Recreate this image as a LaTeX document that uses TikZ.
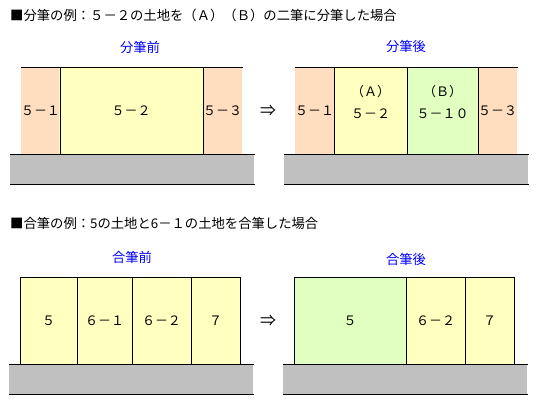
\documentclass[tikz,border=0pt]{standalone}
\usepackage{fontspec}
\newfontfamily\jp{Noto Sans CJK JP}
\definecolor{peach}{RGB}{255,222,192}
\definecolor{lyellow}{RGB}{255,255,192}
\definecolor{lgreen}{RGB}{224,255,192}
\definecolor{groundgray}{RGB}{192,192,192}
\begin{document}
\begin{tikzpicture}[x=1pt,y=-1pt,
  lot/.style={rectangle, inner sep=0pt, outer sep=0pt, anchor=north west, align=center,
     font=\jp\fontsize{13}{22}\selectfont},
  ground/.style={rectangle, inner sep=0pt, outer sep=0pt, anchor=north west, fill=groundgray,
     minimum height=30pt},
  heading/.style={anchor=west, inner sep=0pt, font=\jp\fontsize{13.33}{16}\selectfont},
  title/.style={inner sep=0pt, text=blue, font=\jp\fontsize{13.33}{16}\selectfont},
  arrowsym/.style={inner sep=0pt, font=\jp\fontsize{16}{18}\selectfont},
  edge/.style={line width=1pt, line cap=rect}]
\useasboundingbox (0,0) rectangle (550,413);
\fill[white] (0,0) rectangle (550,413);

% ---------- Headings ----------
\node[heading] (h1) at (10,15) {■分筆の例：５－２の土地を（Ａ）（Ｂ）の二筆に分筆した場合};
\node[heading] (h2) at (10,223) {■合筆の例：5の土地と6－１の土地を合筆した場合};

% ---------- Top left: before split ----------
\node[title] (t1) at (140,47) {分筆前};
\node[ground, minimum width=244pt] (g1) at (10,154) {};
\node[lot, fill=peach, minimum width=38pt, minimum height=87pt] (a1) at (21,67) {５－１};
\node[lot, fill=lyellow, minimum width=144pt, minimum height=87pt] (a2) at (59,67) {５－２};
\node[lot, fill=peach, minimum width=39pt, minimum height=87pt] (a3) at (203,67) {５－３};
\draw[edge] (g1.north west) -- (g1.north east);
\draw[edge] (g1.south west) -- (g1.south east);
\draw[edge] (a1.north west) -- (a3.north east);
\draw[edge] (a1.north east) -- (a1.south east);
\draw[edge] (a2.north east) -- (a2.south east);

\node[arrowsym] (arr1) at (268,111) {⇒};

% ---------- Top right: after split ----------
\node[title] (t2) at (406,46) {分筆後};
\node[ground, minimum width=244pt] (g2) at (284,154) {};
\node[lot, fill=peach, minimum width=39pt, minimum height=87pt] (b1) at (295,67) {５－１};
\node[lot, fill=lyellow, minimum width=73pt, minimum height=87pt] (b2) at (334,67) {};
\node[lot, fill=lgreen, minimum width=71pt, minimum height=87pt] (b3) at (407,67) {};
\node[lot, fill=peach, minimum width=38pt, minimum height=87pt] (b4) at (478,67) {５－３};
\node[lot, anchor=center] (b2l) at ([yshift=8.5pt]b2.center) {（Ａ）\\５－２};
\node[lot, anchor=center] (b3l) at ([yshift=8.5pt]b3.center) {（Ｂ）\\５－１０};
\draw[edge] (g2.north west) -- (g2.north east);
\draw[edge] (g2.south west) -- (g2.south east);
\draw[edge] (b1.north west) -- (b4.north east);
\draw[edge] (b1.north east) -- (b1.south east);
\draw[edge] (b2.north east) -- (b2.south east);
\draw[edge] (b3.north east) -- (b3.south east);

% ---------- Bottom left: before merge ----------
\node[title] (t3) at (132,257) {合筆前};
\node[ground, minimum width=244pt] (g3) at (9,364) {};
\node[lot, fill=lyellow, draw, line width=1pt, minimum width=57pt, minimum height=87pt] (c1) at (20,277) {５};
\node[lot, fill=lyellow, draw, line width=1pt, minimum width=55pt, minimum height=87pt] (c2) at (77,277) {６－１};
\node[lot, fill=lyellow, draw, line width=1pt, minimum width=59pt, minimum height=87pt] (c3) at (132,277) {６－２};
\node[lot, fill=lyellow, draw, line width=1pt, minimum width=49pt, minimum height=87pt] (c4) at (191,277) {７};
\draw[edge] (g3.north west) -- (g3.north east);
\draw[edge] (g3.south west) -- (g3.south east);

\node[arrowsym] (arr2) at (268,321) {⇒};

% ---------- Bottom right: after merge ----------
\node[title] (t4) at (406,259) {合筆後};
\node[ground, minimum width=244pt] (g4) at (283,364) {};
\node[lot, fill=lgreen, draw, line width=1pt, minimum width=112pt, minimum height=87pt] (d1) at (294,277) {５};
\node[lot, fill=lyellow, draw, line width=1pt, minimum width=59pt, minimum height=87pt] (d2) at (406,277) {６－２};
\node[lot, fill=lyellow, draw, line width=1pt, minimum width=49pt, minimum height=87pt] (d3) at (465,277) {７};
\draw[edge] (g4.north west) -- (g4.north east);
\draw[edge] (g4.south west) -- (g4.south east);
\end{tikzpicture}
\end{document}
